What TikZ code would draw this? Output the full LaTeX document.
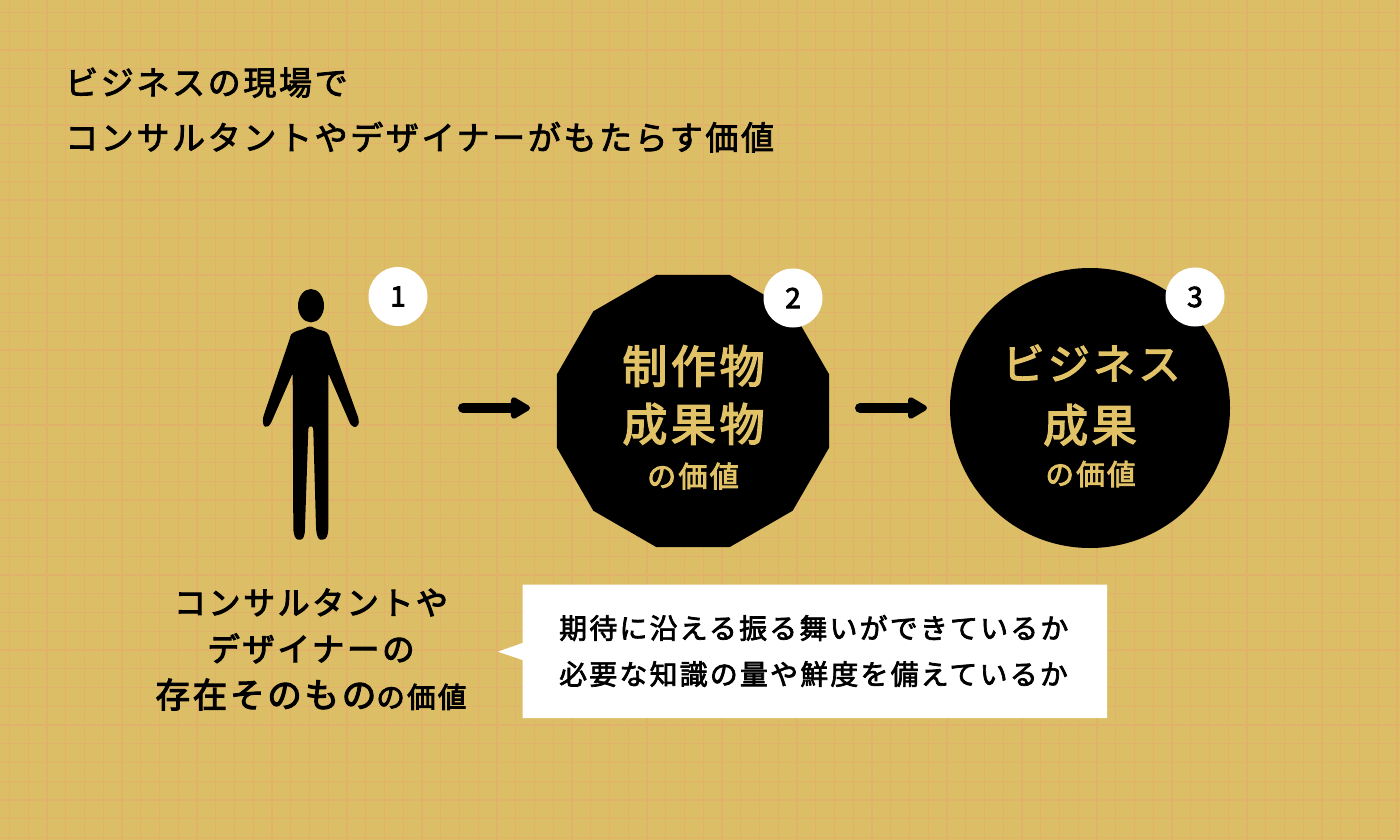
\documentclass[tikz,border=0pt]{standalone}
\usepackage{fontspec}
\usepackage{tikz}
\usetikzlibrary{calc,arrows.meta,shapes.geometric}

\newfontfamily\jpfont[LetterSpace=8,FakeBold=2.5]{Noto Sans CJK JP}
\newfontfamily\jpboldfont[LetterSpace=8,FakeBold=3.2]{Noto Sans CJK JP}

\definecolor{paper}{HTML}{DCBE66}
\definecolor{gridline}{HTML}{E2B26A}
\definecolor{gold}{HTML}{E2C266}

\tikzset{
	blackshape/.style={fill=black, draw=none, inner sep=0pt, text=gold, align=center},
	numberbadge/.style={circle, fill=white, minimum size=59pt, inner sep=0pt, text=black,
		font=\jpboldfont\fontsize{28}{28}\selectfont},
	flowarrow/.style={line width=10pt, line cap=round, -{Triangle[length=22pt,width=24pt,round]}},
}

\begin{document}
\begin{tikzpicture}[x=1pt,y=-1pt]

% parameters %{{{2

	\def\gridstep{18.75}
	\def\polyradius{141}
	\def\circleradius{140}

% paper %{{{2

	\useasboundingbox (0,0) rectangle (1400,840);
	\fill[paper] (0,0) rectangle (1400,840);

	\foreach \i in {0,...,74} {
		\draw[gridline, line width=1.2pt] ({9.5+\gridstep*\i},0) -- ({9.5+\gridstep*\i},840);
	}
	\foreach \i in {0,...,44} {
		\draw[gridline, line width=1.2pt] (0,{12.5+\gridstep*\i}) -- (1400,{12.5+\gridstep*\i});
	}

% title %{{{2

	\node[anchor=west, align=left, inner sep=0pt,
		font=\jpfont\fontsize{33}{55}\selectfont] (title) at (65,110)
		{ビジネスの現場で\\コンサルタントやデザイナーがもたらす価値};

% person %{{{2

	\fill (311,305.7) ellipse (13 and 16.7);
	\fill[rounded corners=1.5pt] (310,326) -- (303.3,329) -- (295,331.7)
		.. controls (291,334) .. (289,341) -- (263.5,416)
		.. controls (262,423) and (264,427) .. (267,426.5)
		.. controls (269,426) .. (271,423) -- (292.7,373.3)
		-- (293.3,526.7) .. controls (293.5,536) and (296,539.5) .. (299.3,539.5)
		.. controls (303,539.5) and (305,536) .. (305,526.7)
		-- (308.3,430) .. controls (308.5,427) .. (310.7,426)
		.. controls (313,427) .. (313.3,430)
		-- (316,526.7) .. controls (316.5,536) and (318.5,539.5) .. (321.7,539.5)
		.. controls (326,539.5) and (328.3,536) .. (328.3,526.7)
		-- (328.3,373.3) -- (350,423.3)
		.. controls (352,426.5) and (355,427.5) .. (357,426)
		.. controls (359,424) and (359,421) .. (358,417)
		-- (331,342) .. controls (329,335) .. (326,331.7)
		-- (316.7,329) -- cycle;

% black shapes %{{{2

	\node[blackshape, regular polygon, regular polygon sides=12, shape border rotate=0,
		minimum size=2*\polyradius pt] (product) at (693,411) {};
	\node[blackshape, circle, minimum size=2*\circleradius pt] (outcome) at (1090,408) {};

% black shapes texts %{{{2

	\node[text=gold, inner sep=0pt, font=\jpboldfont\fontsize{45}{44}\selectfont] (productA) at (693.5,366) {制作物};
	\node[text=gold, inner sep=0pt, font=\jpboldfont\fontsize{45}{44}\selectfont] (productB) at (693.5,424) {成果物};
	\node[text=gold, inner sep=0pt, font=\jpboldfont\fontsize{29}{27}\selectfont] (productC) at (693,476) {の価値};

	\node[text=gold, inner sep=0pt, font=\jpboldfont\fontsize{42}{41}\selectfont] (outcomeA) at (1091.5,363) {ビジネス};
	\node[text=gold, inner sep=0pt, font=\jpboldfont\fontsize{45}{44}\selectfont] (outcomeB) at (1090,425) {成果};
	\node[text=gold, inner sep=0pt, font=\jpboldfont\fontsize{28.5}{27}\selectfont] (outcomeC) at (1090.5,474) {の価値};

% numbers %{{{2

	\node[numberbadge] (numA) at (398,296.5) {1};
	\node[numberbadge] (numB) at (793,298) {2};
	\node[numberbadge] (numC) at (1195,297) {3};

% arrows %{{{2

	\coordinate (arrowAstart) at ($(product.center)+(-230,-3)$);
	\coordinate (arrowAend) at ($(product.center)+(-163,-3)$);
	\coordinate (arrowBstart) at ($(outcome.center)+(-230,0)$);
	\coordinate (arrowBend) at ($(outcome.center)+(-163,0)$);

	\draw[flowarrow] (arrowAstart) -- (arrowAend);
	\draw[flowarrow] (arrowBstart) -- (arrowBend);

% person label %{{{2

	\node[align=center, inner sep=0pt, font=\jpboldfont\fontsize{32}{46.5}\selectfont] (personlabel) at (311,649.5)
		{コンサルタントや\\{\fontsize{32.5}{46.5}\selectfont デザイナーの}\\{\fontsize{34.5}{46.5}\selectfont 存在そのもの}{\fontsize{28.5}{46.5}\selectfont の価値}};

% callout %{{{2

	\fill[white] (522.5,584.5) -- (1107,584.5) -- (1107,718) -- (522.5,718) -- (522.5,660)
		-- (497.7,651.7) -- (522.5,643) -- cycle;

	\node[anchor=west, align=left, inner sep=0pt,
		font=\jpfont\fontsize{27.9}{46}\selectfont] (callout) at (559,651)
		{期待に沿える振る舞いができているか\\必要な知識の量や鮮度を備えているか};

% closing %{{{2

\end{tikzpicture}
\end{document}
